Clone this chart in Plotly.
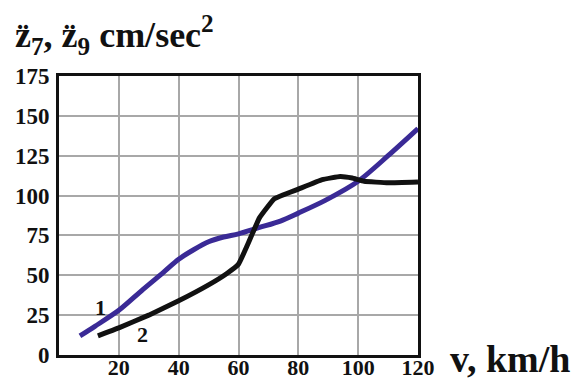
import plotly.graph_objects as go

v1 = [7, 12, 20, 28, 35, 40, 45, 50, 55, 60, 67, 74, 80, 89, 100, 110, 120]
z1 = [12, 18, 28, 41, 52, 60, 66, 71, 74, 76, 80, 84, 89, 97, 109, 125, 142]

v2 = [13, 20, 30, 40, 50, 56, 60, 63, 67, 72, 80, 88, 94, 98, 102, 110, 120]
z2 = [12, 17, 25, 34, 44, 51, 57, 69, 86, 98, 104, 110, 112, 111, 109, 108, 108.5]

xticks = [20, 40, 60, 80, 100, 120]
yticks = [0, 25, 50, 75, 100, 125, 150, 175]

SERIF = "Liberation Serif"

fig = go.Figure()
fig.add_trace(go.Scatter(x=v1, y=z1, mode="lines",
                         line=dict(color="#3a2a96", width=5, shape="spline", smoothing=0.8),
                         showlegend=False))
fig.add_trace(go.Scatter(x=v2, y=z2, mode="lines",
                         line=dict(color="#111111", width=5, shape="spline", smoothing=0.3),
                         showlegend=False))

fig.update_layout(
    width=581, height=380,
    margin=dict(l=59, r=163, t=76, b=25, autoexpand=False),
    paper_bgcolor="white", plot_bgcolor="white",
    font=dict(family=SERIF, color="#111111"),
    xaxis=dict(range=[0, 120], tickvals=xticks, showgrid=True, gridcolor="#a8a8a8", gridwidth=2,
               zeroline=False, showline=True, linecolor="#111111", linewidth=3, mirror=True,
               ticks="", tickfont=dict(family=SERIF, size=22, weight="bold", color="#111111"),
               ticklabelstandoff=-9, automargin=False),
    yaxis=dict(range=[0, 175], tickvals=yticks, showgrid=True, gridcolor="#a8a8a8", gridwidth=2,
               zeroline=False, showline=True, linecolor="#111111", linewidth=3, mirror=True,
               ticks="", tickfont=dict(family=SERIF, size=23, weight="bold", color="#111111"),
               ticklabelstandoff=2, automargin=False),
)

fig.add_annotation(x=13.8, y=30, xref="x", yref="y", text="<b>1</b>", showarrow=False,
                   font=dict(family=SERIF, size=22, color="#111111"))
fig.add_annotation(x=28, y=13, xref="x", yref="y", text="<b>2</b>", showarrow=False,
                   font=dict(family=SERIF, size=22, color="#111111"))

fig.add_annotation(xref="paper", yref="paper", x=1.0, y=0, xanchor="left", yanchor="top",
                   xshift=30, yshift=19, text="<b>v, km/h</b>", showarrow=False,
                   font=dict(family=SERIF, size=38, color="#111111"))
fig.add_annotation(xref="paper", yref="paper", x=0, y=1, xanchor="left", yanchor="bottom",
                   xshift=-46, yshift=14,
                   text="<b>z\u0308<sub>7</sub>, z\u0308<sub>9</sub> cm/sec<sup>2</sup></b>",
                   showarrow=False, font=dict(family=SERIF, size=36, color="#111111"))

fig.write_html("out.html")
